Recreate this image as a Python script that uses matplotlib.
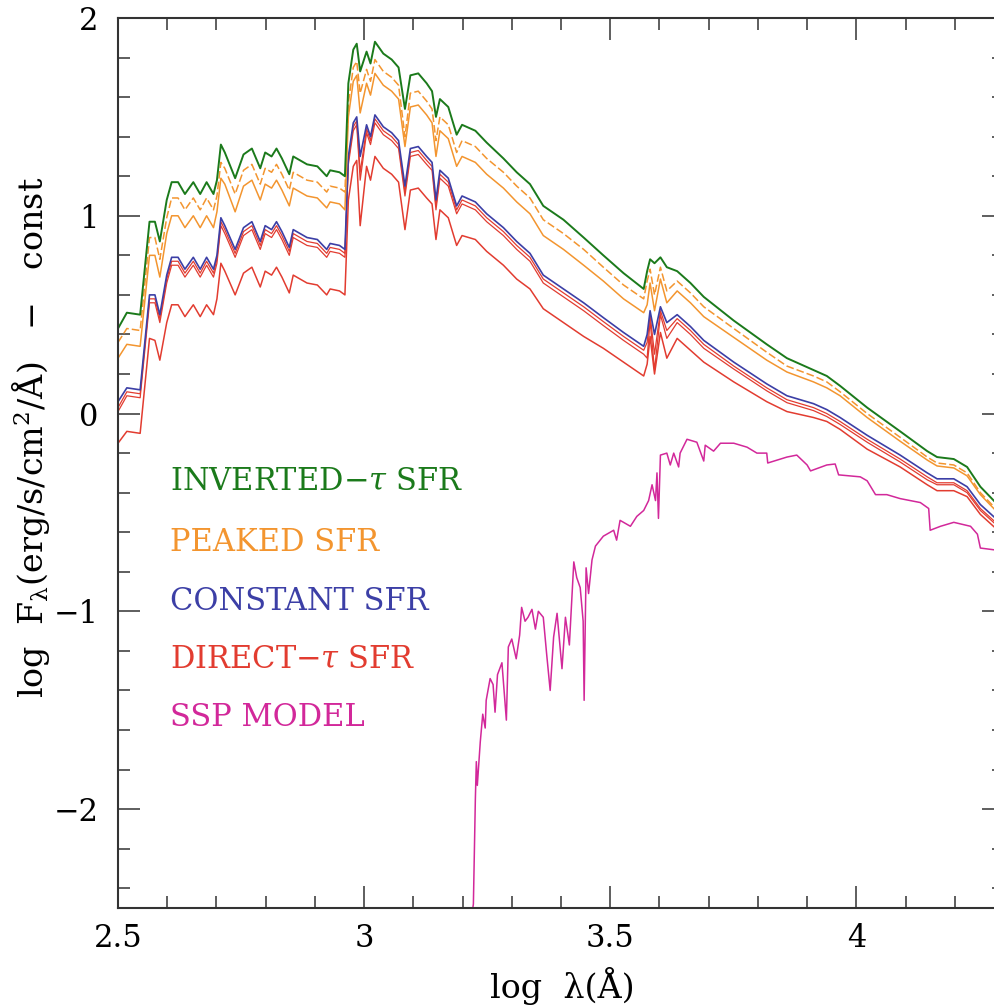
import matplotlib
matplotlib.use('Agg')
import matplotlib.pyplot as plt
from matplotlib.ticker import MultipleLocator

# log wavelength grid shared by the composite spectra
log_wave = [2.500, 2.518, 2.545, 2.564, 2.575, 2.585, 2.599, 2.609, 2.622, 2.636,
            2.653, 2.667, 2.680, 2.694, 2.701, 2.709, 2.717, 2.738, 2.755, 2.772,
            2.789, 2.799, 2.812, 2.822, 2.833, 2.848, 2.856, 2.870, 2.884, 2.905,
            2.924, 2.931, 2.950, 2.961, 2.968, 2.978, 2.985, 2.992, 3.005, 3.013,
            3.022, 3.039, 3.056, 3.070, 3.083, 3.094, 3.110, 3.127, 3.138, 3.146,
            3.154, 3.171, 3.188, 3.199, 3.226, 3.249, 3.283, 3.310, 3.337, 3.364,
            3.405, 3.446, 3.486, 3.527, 3.568, 3.575, 3.581, 3.590, 3.602, 3.615,
            3.636, 3.663, 3.690, 3.751, 3.818, 3.859, 3.913, 3.940, 3.967, 4.022,
            4.089, 4.144, 4.164, 4.198, 4.225, 4.252, 4.283, 4.300]

inverted_tau = [0.43, 0.51, 0.50, 0.97, 0.97, 0.87, 1.08, 1.17, 1.17, 1.11,
                1.17, 1.11, 1.17, 1.11, 1.18, 1.36, 1.32, 1.19, 1.31, 1.34,
                1.24, 1.32, 1.30, 1.34, 1.29, 1.21, 1.30, 1.28, 1.26, 1.25,
                1.20, 1.23, 1.22, 1.20, 1.67, 1.84, 1.87, 1.73, 1.83, 1.77,
                1.88, 1.82, 1.79, 1.75, 1.54, 1.71, 1.72, 1.67, 1.63, 1.50,
                1.59, 1.55, 1.41, 1.46, 1.43, 1.37, 1.29, 1.22, 1.16, 1.05,
                0.98, 0.89, 0.80, 0.71, 0.63, 0.72, 0.78, 0.76, 0.79, 0.74,
                0.72, 0.66, 0.59, 0.47, 0.35, 0.28, 0.22, 0.19, 0.14, 0.03,
                -0.09, -0.19, -0.22, -0.23, -0.27, -0.37, -0.45, -0.49]

peaked_upper = [0.36, 0.43, 0.42, 0.89, 0.89, 0.78, 0.99, 1.09, 1.09, 1.03,
                1.09, 1.03, 1.09, 1.03, 1.10, 1.27, 1.24, 1.11, 1.23, 1.26,
                1.16, 1.24, 1.22, 1.26, 1.21, 1.13, 1.22, 1.20, 1.18, 1.17,
                1.12, 1.15, 1.14, 1.12, 1.57, 1.75, 1.78, 1.62, 1.74, 1.68,
                1.79, 1.73, 1.70, 1.66, 1.40, 1.62, 1.63, 1.58, 1.54, 1.38,
                1.50, 1.46, 1.32, 1.38, 1.35, 1.29, 1.22, 1.15, 1.09, 0.98,
                0.91, 0.83, 0.74, 0.65, 0.58, 0.67, 0.73, 0.60, 0.74, 0.62,
                0.67, 0.61, 0.54, 0.43, 0.31, 0.24, 0.19, 0.16, 0.11, 0.00,
                -0.12, -0.22, -0.25, -0.26, -0.30, -0.40, -0.48, -0.52]

peaked_lower = [0.28, 0.35, 0.34, 0.80, 0.80, 0.69, 0.91, 1.00, 1.00, 0.94,
                1.00, 0.94, 1.00, 0.94, 1.02, 1.19, 1.16, 1.02, 1.15, 1.18,
                1.08, 1.16, 1.14, 1.18, 1.13, 1.05, 1.14, 1.12, 1.10, 1.09,
                1.04, 1.07, 1.06, 1.03, 1.50, 1.68, 1.71, 1.52, 1.67, 1.61,
                1.72, 1.66, 1.63, 1.59, 1.35, 1.55, 1.56, 1.51, 1.47, 1.30,
                1.43, 1.39, 1.25, 1.30, 1.27, 1.21, 1.14, 1.07, 1.01, 0.90,
                0.83, 0.75, 0.67, 0.58, 0.51, 0.55, 0.66, 0.52, 0.68, 0.56,
                0.62, 0.56, 0.49, 0.385, 0.27, 0.21, 0.16, 0.13, 0.09, -0.02,
                -0.14, -0.235, -0.265, -0.275, -0.315, -0.41, -0.49, -0.53]

constant = [0.06, 0.13, 0.12, 0.60, 0.60, 0.50, 0.70, 0.79, 0.79, 0.73,
            0.79, 0.73, 0.79, 0.73, 0.80, 0.99, 0.95, 0.83, 0.94, 0.97,
            0.87, 0.95, 0.93, 0.97, 0.92, 0.84, 0.93, 0.91, 0.89, 0.88,
            0.83, 0.86, 0.85, 0.83, 1.30, 1.47, 1.50, 1.30, 1.46, 1.40,
            1.51, 1.45, 1.42, 1.38, 1.15, 1.34, 1.35, 1.30, 1.27, 1.08,
            1.23, 1.19, 1.05, 1.10, 1.07, 1.01, 0.94, 0.87, 0.81, 0.70,
            0.63, 0.56, 0.485, 0.41, 0.34, 0.40, 0.52, 0.40, 0.54, 0.46,
            0.50, 0.44, 0.37, 0.26, 0.15, 0.09, 0.05, 0.02, -0.02, -0.11,
            -0.21, -0.30, -0.33, -0.33, -0.37, -0.46, -0.53, -0.57]

direct_tau_a = [0.03, 0.11, 0.10, 0.58, 0.58, 0.48, 0.68, 0.77, 0.77, 0.71,
                0.77, 0.71, 0.77, 0.71, 0.78, 0.97, 0.93, 0.81, 0.92, 0.95,
                0.85, 0.93, 0.91, 0.95, 0.90, 0.82, 0.91, 0.89, 0.87, 0.86,
                0.81, 0.84, 0.83, 0.81, 1.28, 1.45, 1.48, 1.22, 1.44, 1.38,
                1.49, 1.43, 1.40, 1.36, 1.12, 1.32, 1.33, 1.28, 1.25, 1.05,
                1.21, 1.17, 1.03, 1.08, 1.05, 0.99, 0.92, 0.85, 0.79, 0.68,
                0.61, 0.54, 0.465, 0.39, 0.32, 0.36, 0.50, 0.30, 0.52, 0.42,
                0.48, 0.42, 0.35, 0.24, 0.13, 0.07, 0.03, 0.00, -0.04, -0.13,
                -0.23, -0.32, -0.35, -0.35, -0.39, -0.48, -0.55, -0.59]

direct_tau_b = [0.01, 0.09, 0.08, 0.56, 0.56, 0.46, 0.66, 0.75, 0.75, 0.69,
                0.75, 0.69, 0.75, 0.69, 0.76, 0.95, 0.91, 0.79, 0.90, 0.93,
                0.83, 0.91, 0.89, 0.93, 0.88, 0.80, 0.89, 0.87, 0.85, 0.84,
                0.79, 0.82, 0.81, 0.79, 1.26, 1.43, 1.46, 1.18, 1.42, 1.36,
                1.47, 1.41, 1.38, 1.34, 1.10, 1.30, 1.31, 1.26, 1.23, 1.03,
                1.19, 1.15, 1.01, 1.06, 1.03, 0.97, 0.90, 0.83, 0.77, 0.66,
                0.59, 0.52, 0.445, 0.37, 0.30, 0.28, 0.47, 0.22, 0.50, 0.38,
                0.46, 0.40, 0.33, 0.225, 0.115, 0.055, 0.015, -0.015, -0.055, -0.145,
                -0.245, -0.335, -0.36, -0.36, -0.40, -0.49, -0.56, -0.60]

direct_tau_low = [-0.15, -0.09, -0.10, 0.38, 0.37, 0.27, 0.46, 0.55, 0.55, 0.49,
                  0.55, 0.49, 0.55, 0.50, 0.58, 0.76, 0.72, 0.60, 0.71, 0.74,
                  0.64, 0.72, 0.70, 0.74, 0.69, 0.61, 0.70, 0.68, 0.66, 0.65,
                  0.60, 0.63, 0.62, 0.60, 1.08, 1.25, 1.28, 0.95, 1.25, 1.18,
                  1.30, 1.24, 1.21, 1.17, 0.93, 1.13, 1.14, 1.09, 1.06, 0.88,
                  1.03, 0.99, 0.85, 0.90, 0.88, 0.82, 0.75, 0.68, 0.63, 0.53,
                  0.46, 0.39, 0.33, 0.26, 0.19, 0.25, 0.39, 0.20, 0.41, 0.28,
                  0.38, 0.32, 0.26, 0.16, 0.06, 0.01, -0.02, -0.04, -0.08, -0.18,
                  -0.27, -0.36, -0.39, -0.39, -0.42, -0.51, -0.58, -0.62]

# single stellar population spectrum
ssp_wave = [3.218, 3.222, 3.226, 3.228, 3.230, 3.236, 3.241, 3.246, 3.248, 3.256,
            3.262, 3.266, 3.271, 3.280, 3.289, 3.293, 3.300, 3.309, 3.316, 3.320,
            3.327, 3.333, 3.341, 3.348, 3.354, 3.364, 3.371, 3.378, 3.385, 3.392,
            3.402, 3.409, 3.417, 3.426, 3.432, 3.439, 3.445, 3.447, 3.451, 3.456,
            3.463, 3.470, 3.486, 3.507, 3.513, 3.520, 3.541, 3.554, 3.568, 3.578,
            3.585, 3.592, 3.595, 3.598, 3.602, 3.615, 3.622, 3.629, 3.639, 3.642,
            3.656, 3.676, 3.690, 3.693, 3.710, 3.724, 3.751, 3.778, 3.798, 3.818,
            3.820, 3.859, 3.879, 3.900, 3.907, 3.940, 3.957, 3.964, 4.008, 4.022,
            4.039, 4.062, 4.089, 4.130, 4.147, 4.150, 4.171, 4.198, 4.232, 4.246,
            4.252, 4.283, 4.300]

ssp_flux = [-2.55, -2.48, -1.95, -1.76, -1.88, -1.66, -1.52, -1.59, -1.45, -1.34,
            -1.37, -1.51, -1.32, -1.26, -1.55, -1.18, -1.14, -1.24, -1.12, -0.98,
            -1.05, -1.03, -0.99, -1.09, -1.00, -1.03, -1.22, -1.40, -1.13, -1.01,
            -1.29, -1.03, -1.17, -0.75, -0.83, -0.88, -1.05, -1.45, -0.78, -0.91,
            -0.74, -0.67, -0.62, -0.59, -0.64, -0.54, -0.57, -0.52, -0.49, -0.44,
            -0.36, -0.44, -0.30, -0.53, -0.21, -0.20, -0.26, -0.20, -0.27, -0.20,
            -0.13, -0.145, -0.24, -0.16, -0.19, -0.15, -0.15, -0.17, -0.20, -0.20,
            -0.25, -0.22, -0.21, -0.26, -0.29, -0.26, -0.255, -0.31, -0.32, -0.34,
            -0.41, -0.41, -0.43, -0.45, -0.48, -0.59, -0.57, -0.55, -0.57, -0.61,
            -0.68, -0.69, -0.70]

labels = [r'INVERTED$-\tau$ SFR', 'PEAKED SFR', 'CONSTANT SFR',
          r'DIRECT$-\tau$ SFR', 'SSP MODEL']

GREEN = '#1b7a1b'
ORANGE = '#f3952f'
BLUE = '#3c3fa6'
RED = '#e23c30'
MAGENTA = '#d2289a'


def setRCParameters():

    plt.rcParams['font.family'] = 'DejaVu Serif'
    plt.rcParams['mathtext.fontset'] = 'dejavuserif'
    plt.rcParams['font.size'] = 22


def doSpectraPlot():

    fig = plt.figure(figsize = (9.95, 10.05), dpi = 100)
    # right edge sits just past the figure, as in the original cropped plot
    ax = fig.add_axes([118/995, 97/1005, 886/995, 890/1005])

    ax.plot(log_wave, direct_tau_low, color = RED, lw = 1.1)
    ax.plot(log_wave, direct_tau_b, color = RED, lw = 0.9)
    ax.plot(log_wave, direct_tau_a, color = RED, lw = 0.9)
    ax.plot(log_wave, constant, color = BLUE, lw = 1.2)
    ax.plot(log_wave, peaked_lower, color = ORANGE, lw = 1.1)
    ax.plot(log_wave, peaked_upper, color = ORANGE, lw = 1.1, dashes = (5, 2))
    ax.plot(log_wave, inverted_tau, color = GREEN, lw = 1.4)
    ax.plot(ssp_wave, ssp_flux, color = MAGENTA, lw = 1.1)

    ax.set_xlim(2.5, 4.3)
    ax.set_ylim(-2.5, 2)

    ax.xaxis.set_minor_locator(MultipleLocator(0.1))
    ax.yaxis.set_major_locator(MultipleLocator(1))
    ax.yaxis.set_minor_locator(MultipleLocator(0.2))
    ax.set_xticks([2.5, 3, 3.5, 4])
    ax.set_xticklabels(['2.5', '3', '3.5', '4'])

    ax.tick_params(which = 'both', direction = 'in', top = True, right = True,
                   width = 1.1, color = '#333333', labelsize = 22)
    ax.tick_params(which = 'major', length = 16)
    ax.tick_params(which = 'minor', length = 8.5)
    ax.tick_params(axis = 'x', pad = 11)
    ax.tick_params(axis = 'y', pad = 14)

    for spine in ax.spines.values():
        spine.set_linewidth(1.5)
        spine.set_color('#333333')

    ax.set_xlabel('log  λ(Å)', fontsize = 24)
    ax.set_ylabel(r'log  F$_{\mathrm{λ}}$(erg/s/cm$^2$/Å)   −   const', fontsize = 24)
    ax.xaxis.set_label_coords(0.502, -0.066)
    ax.yaxis.set_label_coords(-0.075, 0.529)

    text_colors = [GREEN, ORANGE, BLUE, RED, MAGENTA]
    text_y = [0.479, 0.411, 0.344, 0.279, 0.2135]
    for label, col, ty in zip(labels, text_colors, text_y):
        ax.text(0.0587, ty, label, color = col, fontsize = 22,
                transform = ax.transAxes, ha = 'left', va = 'center')

    return fig


def main():

    setRCParameters()
    fig = doSpectraPlot()
    fig.savefig('out.png', dpi = 100)


if __name__ == '__main__':
    main()
